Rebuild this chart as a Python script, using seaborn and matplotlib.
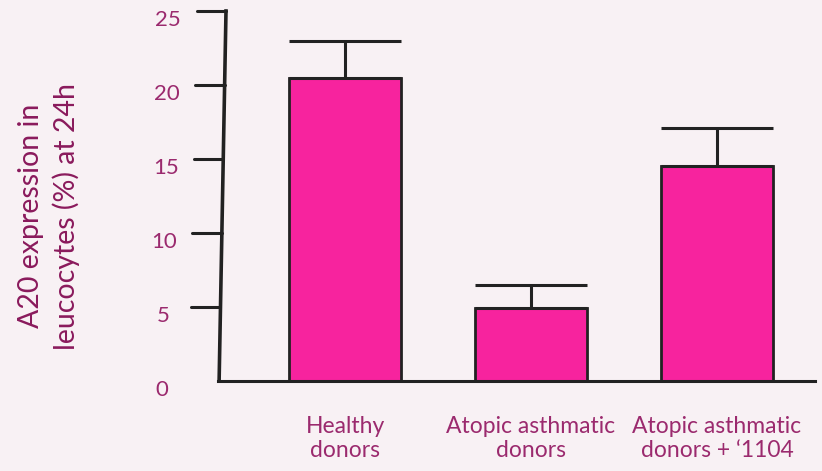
import matplotlib
matplotlib.use("Agg")
import matplotlib.pyplot as plt
import seaborn as sns
import pandas as pd

groups = ["Healthy\ndonors", "Atopic asthmatic\ndonors", "Atopic asthmatic\ndonors + \u20181104"]
means = [20.5, 4.9, 14.5]
sems = [2.5, 1.6, 2.6]
yticks = [0, 5, 10, 15, 20, 25]

BG = "#f8f1f4"
BAR = "#f7239e"
TXT = "#9b2a6e"
LBL = "#8a1a5c"
INK = "#222222"

sns.set_theme(style="white")
plt.rcParams["font.family"] = ["Lato", "DejaVu Sans"]

df = pd.DataFrame({"group": groups, "value": means})

fig = plt.figure(figsize=(8.22, 4.71), dpi=100, facecolor=BG)
ax = fig.add_axes([218 / 822, 90 / 471, 597 / 822, 370 / 471])
ax.set_facecolor(BG)

sns.barplot(data=df, x="group", y="value", color=BAR, width=0.6,
            edgecolor=INK, linewidth=2.0, errorbar=None, saturation=1, ax=ax)
ax.errorbar(range(len(means)), means, yerr=[[0] * len(means), sems], fmt="none",
            ecolor=INK, elinewidth=2.2, capsize=40.5, capthick=2.2, zorder=1)

ax.set_xlim(-0.683, 2.527)
ax.set_ylim(0, 25)

for side in ["left", "top", "right"]:
    ax.spines[side].set_visible(False)
ax.spines["bottom"].set_color(INK)
ax.spines["bottom"].set_linewidth(2.2)

# slightly slanted y axis with ticks drawn by hand
x0, x25 = -0.677, -0.640
tick_len = 0.158
ax.plot([x0, x25], [0, 25], color=INK, lw=2.6, clip_on=False, solid_capstyle="projecting")
for t in yticks:
    xa = x0 + (x25 - x0) * t / 25
    if t > 0:
        ax.plot([xa - tick_len, xa], [t, t], color=INK, lw=2.2, clip_on=False)
    ax.text(xa - 0.31, t - 0.6, str(t), ha="center", va="center", fontsize=16, color=TXT, clip_on=False)

ax.set_yticks([])
ax.set_xlabel("")
ax.set_ylabel("")
ax.tick_params(axis="x", length=0, pad=25, labelsize=16.5, labelcolor=TXT)

fig.text(49 / 822, 255 / 471, "A20 expression in\nleucocytes (%) at 24h", rotation=90,
         ha="center", va="center", fontsize=20.5, color=LBL, linespacing=1.35)

fig.savefig("out.png", dpi=100, facecolor=BG)
